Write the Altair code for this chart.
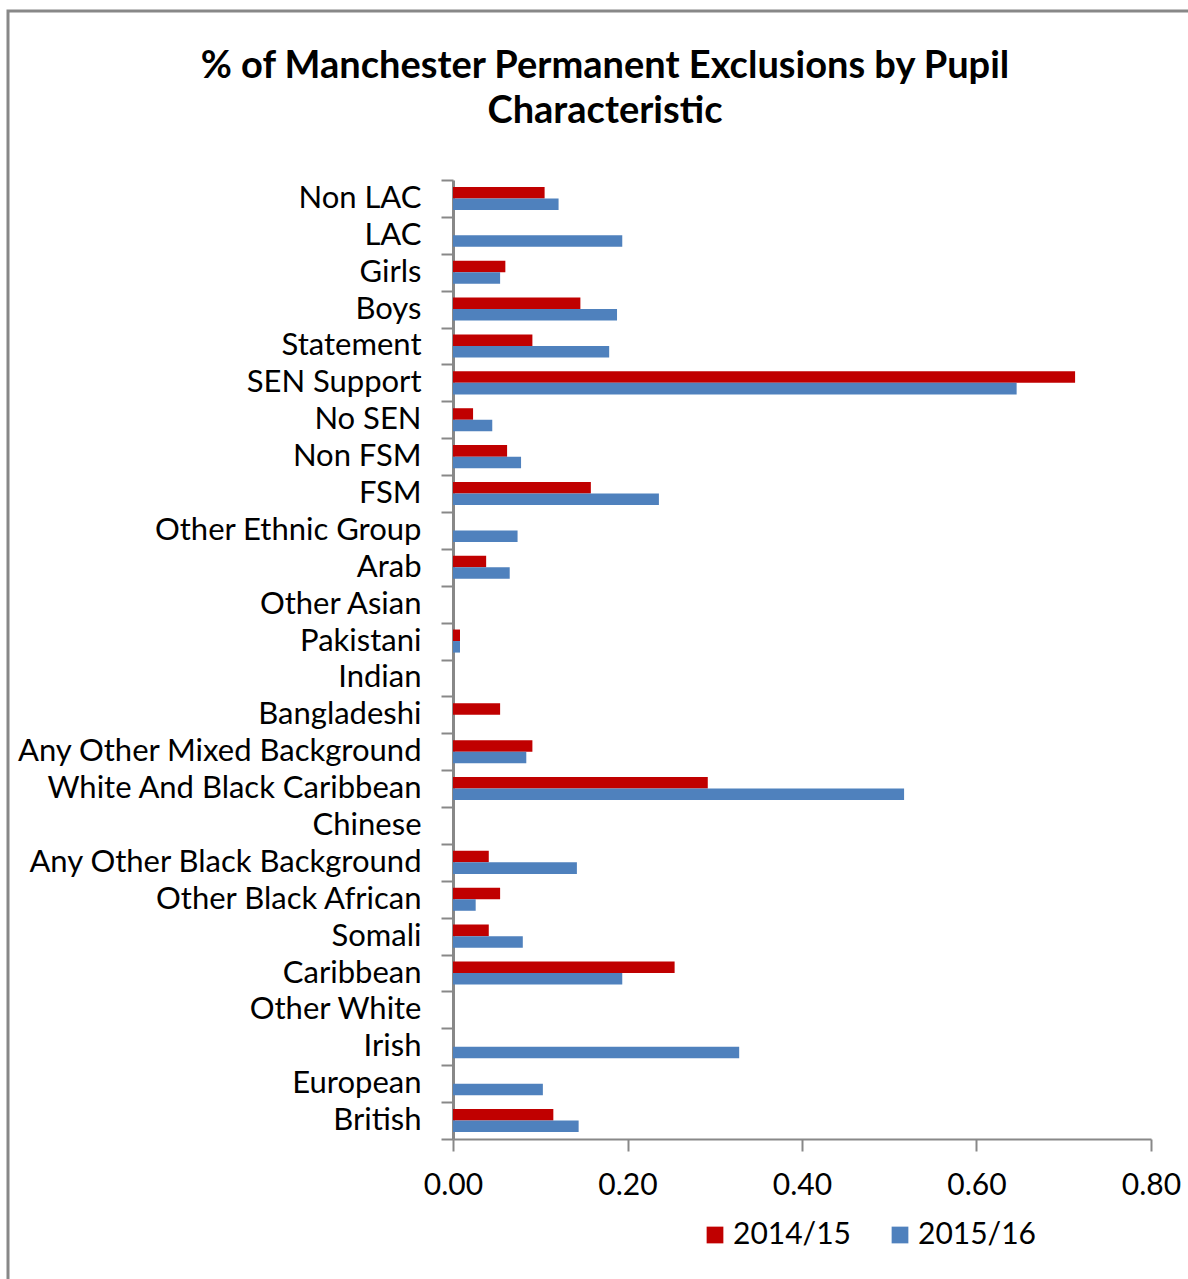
import altair as alt
import pandas as pd

# Pupil characteristics, top to bottom
categories = [
    "Non LAC", "LAC", "Girls", "Boys", "Statement", "SEN Support", "No SEN",
    "Non FSM", "FSM", "Other Ethnic Group", "Arab", "Other Asian", "Pakistani",
    "Indian", "Bangladeshi", "Any Other Mixed Background",
    "White And Black Caribbean", "Chinese", "Any Other Black Background",
    "Other Black African", "Somali", "Caribbean", "Other White", "Irish",
    "European", "British",
]

series = ["2014/15", "2015/16"]

# % permanently excluded (None = no exclusions recorded)
values_2014_15 = [
    0.105, None, 0.060, 0.146, 0.091, 0.713, 0.023,
    0.062, 0.158, None, 0.038, None, 0.008,
    None, 0.054, 0.091,
    0.292, None, 0.041,
    0.054, 0.041, 0.254, None, None,
    None, 0.115,
]
values_2015_16 = [
    0.121, 0.194, 0.054, 0.188, 0.179, 0.646, 0.045,
    0.078, 0.236, 0.074, 0.065, None, 0.008,
    None, None, 0.084,
    0.517, None, 0.142,
    0.026, 0.080, 0.194, None, 0.328,
    0.103, 0.144,
]

x_ticks = [0.0, 0.2, 0.4, 0.6, 0.8]
colors = ["#C00000", "#4F81BD"]

rows = []
for cat, a, b in zip(categories, values_2014_15, values_2015_16):
    rows.append({"category": cat, "year": series[0], "value": a})
    rows.append({"category": cat, "year": series[1], "value": b})
df = pd.DataFrame(rows)

FONT = "Lato"
GRAY = "#888888"

bars = alt.Chart(df).mark_bar().encode(
    y=alt.Y(
        "category:N",
        scale=alt.Scale(domain=categories, paddingInner=0, paddingOuter=0),
        axis=alt.Axis(
            title=None,
            labelFontSize=31,
            labelFont=FONT,
            labelColor="#000000",
            labelPadding=20,
            labelLimit=0,
            tickBand="extent",
            tickSize=12,
            tickWidth=2,
            tickColor=GRAY,
            domainColor=GRAY,
            domainWidth=3,
            grid=False,
        ),
    ),
    yOffset=alt.YOffset(
        "year:N",
        sort=series,
        scale=alt.Scale(paddingInner=0, paddingOuter=0.6),
    ),
    x=alt.X(
        "value:Q",
        scale=alt.Scale(domain=[0, 0.8], nice=False),
        axis=alt.Axis(
            title=None,
            values=x_ticks,
            format=".2f",
            labelFontSize=30,
            labelFont=FONT,
            labelColor="#000000",
            labelPadding=19,
            labelFlush=False,
            tickSize=12,
            tickWidth=2,
            tickColor=GRAY,
            domainColor=GRAY,
            domainWidth=2,
            grid=False,
        ),
    ),
    color=alt.Color(
        "year:N",
        scale=alt.Scale(domain=series, range=colors),
        legend=alt.Legend(
            title=None,
            orient="none",
            direction="horizontal",
            legendX=247,
            legendY=1040,
            symbolType="square",
            symbolSize=280,
            symbolStrokeWidth=0,
            labelFontSize=30,
            labelFont=FONT,
            labelColor="#000000",
            columnPadding=34,
            labelOffset=3,
        ),
    ),
)

# Outer chart-area border
frame = alt.Chart(pd.DataFrame({"k": [0]})).mark_rect(
    fill=None, stroke=GRAY, strokeWidth=3
).encode(
    x=alt.value(-445), x2=alt.value(760),
    y=alt.value(-169), y2=alt.value(1120),
)

chart = alt.layer(frame, bars).properties(
    width=698,
    height=959,
    autosize=alt.AutoSizeParams(type="none"),
    padding={"left": 453, "top": 180, "right": 37, "bottom": 140},
    view=alt.ViewBackground(strokeWidth=0, strokeOpacity=0),
    title=alt.TitleParams(
        text=["% of Manchester Permanent Exclusions  by Pupil", "Characteristic"],
        font=FONT,
        fontSize=38,
        fontWeight="bold",
        color="#000000",
        anchor="middle",
        frame="group",
        dx=-197,
        offset=-121,
        lineHeight=45,
    ),
).configure_view(strokeOpacity=0, strokeWidth=0).configure(background="white")

chart.save("out.html", embed_options={"renderer": "svg", "actions": False})
